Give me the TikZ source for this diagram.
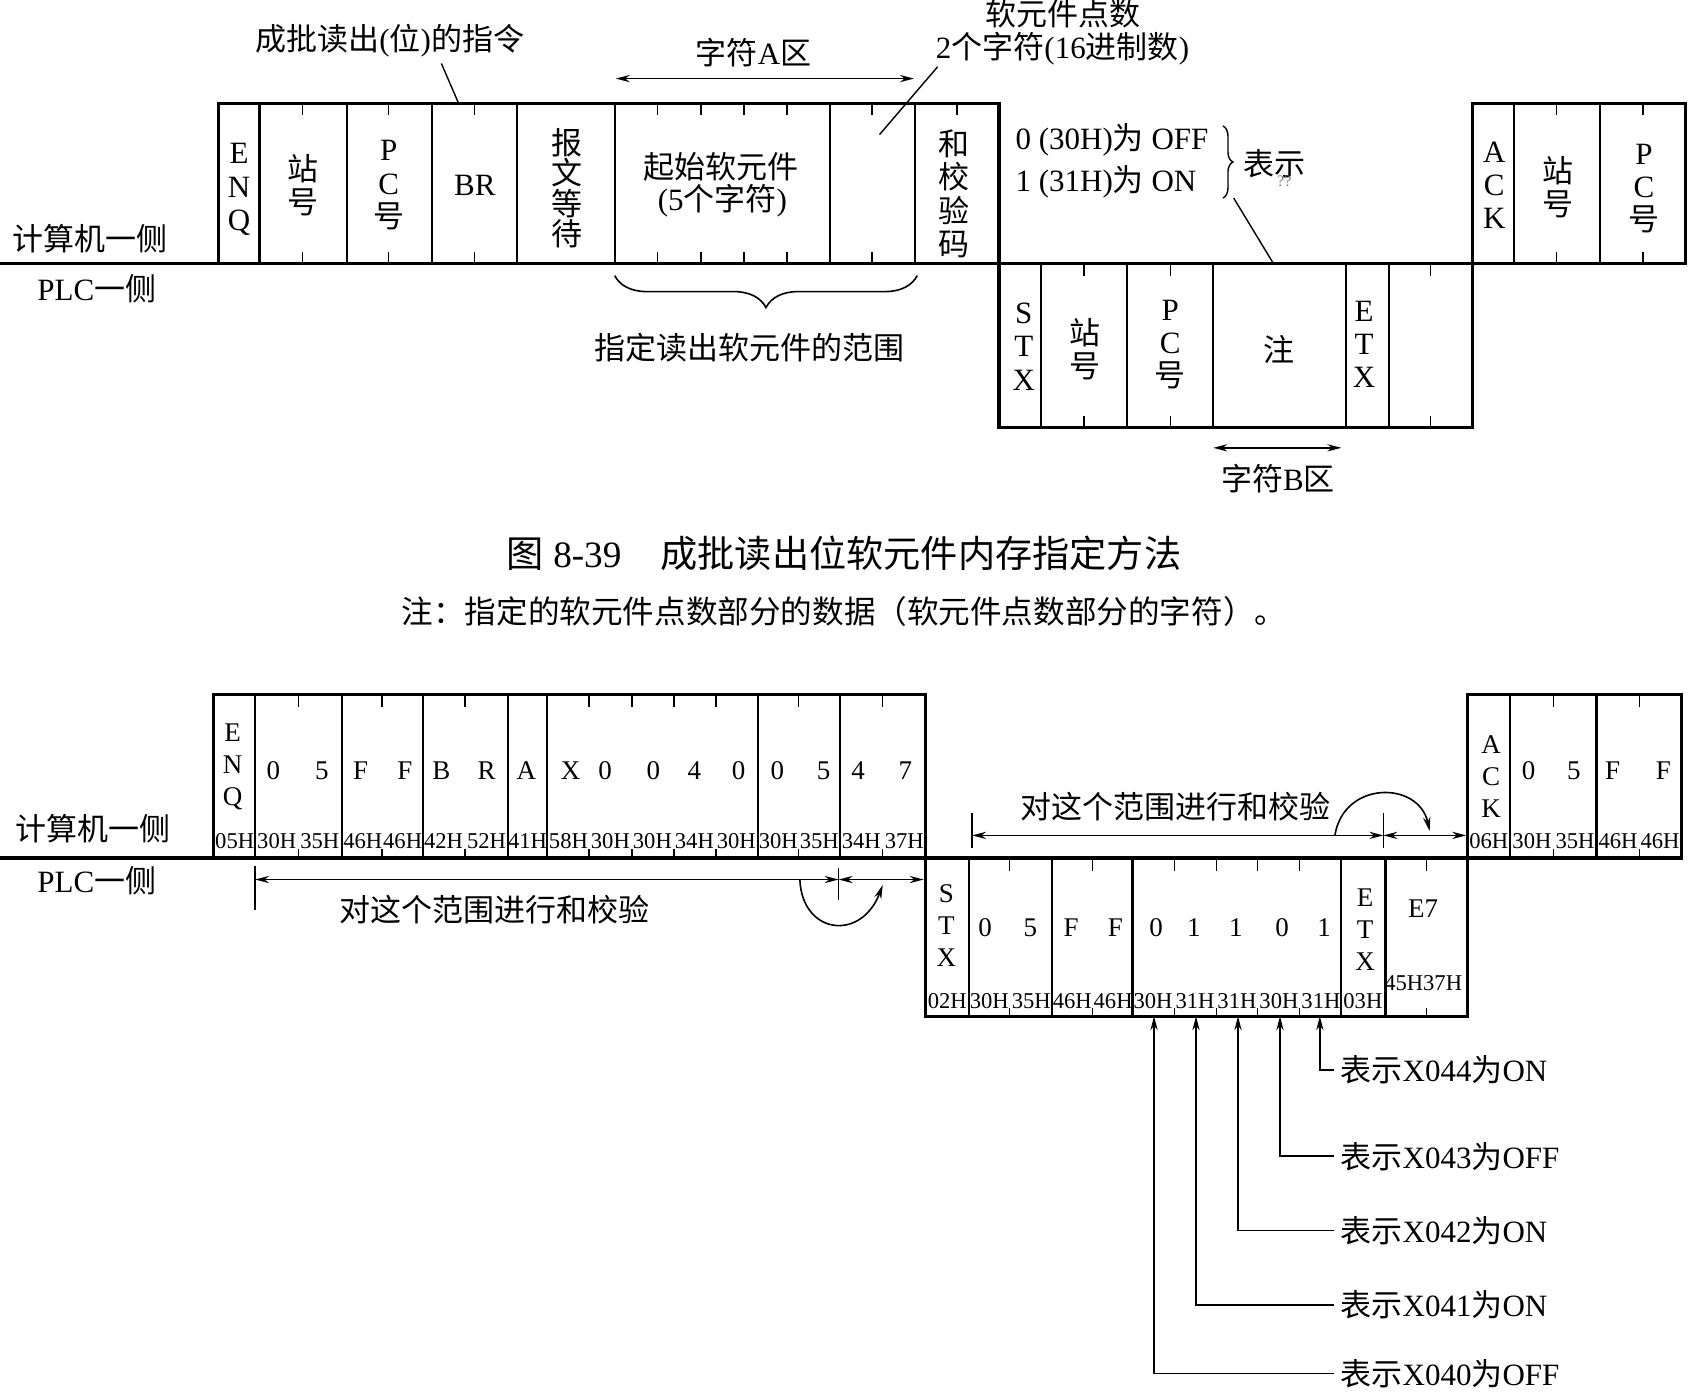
\documentclass[tikz,border=0pt]{standalone}
\usepackage{fontspec}
\setmainfont{Liberation Serif}
\newfontfamily\cjk{Noto Sans CJK SC}
\usetikzlibrary{arrows.meta,decorations.pathreplacing}
\newcommand\zh[1]{{\cjk #1}}
\begin{document}
\begin{tikzpicture}[x=0.5383pt,y=-0.5383pt,
  frame/.style={line width=1.6pt},
  divl/.style={line width=1.1pt},
  tickl/.style={line width=0.7pt},
  lbl/.style={inner sep=0pt, font=\fontsize{15.5}{16.5}\selectfont, align=center},
  vst/.style={inner sep=0pt, font=\fontsize{15.5}{16.6}\selectfont, align=center},
  vzh/.style={inner sep=0pt, font=\fontsize{15.5}{16.6}\selectfont\cjk, align=center},
  vsb/.style={inner sep=0pt, font=\fontsize{13.5}{16}\selectfont, align=center},
  big/.style={inner sep=0pt, font=\fontsize{13.5}{15}\selectfont},
  hex/.style={inner sep=0pt, font=\fontsize{11.3}{12}\selectfont},
  leader/.style={line width=0.7pt},
  thin/.style={line width=0.8pt},
  dbl/.style={line width=0.8pt, {Stealth[length=7pt,width=3.6pt]}-{Stealth[length=7pt,width=3.6pt]}},
  sarr/.style={line width=0.8pt, -{Stealth[length=7pt,width=3.6pt]}},
]
\useasboundingbox (0,0) rectangle (1568,1293);

%================ TOP DIAGRAM =================
\draw[frame] (0,245) -- (1566,245);
\draw[frame] (203,96) rectangle (928,245);
\draw[frame] (928,245) rectangle (1368,397);
\draw[frame] (1368,96) rectangle (1566,245);
\foreach \x in {241,322,401,480,571,771,850,1406,1486} \draw[divl] (\x,96) -- (\x,245);
\foreach \x in {967,1047,1127,1250,1290} \draw[divl] (\x,245) -- (\x,397);
\foreach \x in {281,361,441,611,651,691,731,810,1446,1526} {\draw[tickl] (\x,96) -- (\x,107); \draw[tickl] (\x,245) -- (\x,234);}
\draw[tickl] (889,96) -- (889,107);
\foreach \x in {1007,1087,1329} {\draw[tickl] (\x,245) -- (\x,256); \draw[tickl] (\x,397) -- (\x,386);}

\node[lbl] (tpc) at (84,222) {\zh{计算机一侧}};
\node[lbl] (tplc) at (90,268) {PLC\zh{一侧}};
\node[lbl] (tcmd) at (362,38) {\zh{成批读出}(\zh{位})\zh{的指令}};
\draw[leader] (410,59) -- (426,96);
\node[lbl] (tA) at (700,49) {\zh{字符}A\zh{区}};
\draw[dbl] (572,73) -- (849,73);
\node[lbl] (tn1) at (987,13) {\zh{软元件点数}};
\node[lbl] (tn2) at (987,45) {2\zh{个字符}(16\zh{进制数})};
\draw[leader] (871,62) -- (817,125);

\node[vst] (tenq) at (222,176) {E\\N\\Q};
\node[vzh] (tst1) at (281,172) {站\\号};
\node[vst] (tpc1) at (361,172) {P\\C\\\zh{号}};
\node[lbl] (tbr) at (441,172) {BR};
\node[vzh,font=\fontsize{15.5}{15.2}\selectfont\cjk] (tbw) at (527,175) {报\\文\\等\\待};
\node[lbl] (tstart) at (670,155) {\zh{起始软元件}};
\node[lbl] (tstart2) at (671,186) {(5\zh{个字符})};
\node[vzh] (tsum) at (886,180) {和\\校\\验\\码};
\node[lbl, anchor=west] (toff) at (943,130) {0 (30H)\zh{为} OFF};
\node[lbl, anchor=west] (ton) at (943,169) {1 (31H)\zh{为} ON};
\draw[line width=0.7pt, decorate, decoration={brace, amplitude=5pt}] (1136,117) -- (1136,184);
\node[lbl] (tbs) at (1184,152) {\zh{表示}};
\node[inner sep=0pt, font=\fontsize{8}{8}\selectfont, text=gray] (tqq) at (1193,168) {??};
\draw[leader] (1146,184) -- (1183,245);
\node[vst] (tack) at (1388,172) {A\\C\\K};
\node[vzh] (tst2) at (1447,174) {站\\号};
\node[vst] (tpc2) at (1527,175) {P\\C\\\zh{号}};

\node[vst] (tstx) at (951,322) {S\\T\\X};
\node[vzh] (tst3) at (1008,324) {站\\号};
\node[vst] (tpc3) at (1087,320) {P\\C\\\zh{号}};
\node[lbl] (tnote) at (1188,325) {\zh{注}};
\node[vst] (tetx) at (1267,320) {E\\T\\X};

\draw[line width=0.8pt, decorate, decoration={brace, mirror, amplitude=16pt}] (571,256) -- (852,256);
\node[lbl] (trange) at (696,323) {\zh{指定读出软元件的范围}};
\draw[dbl] (1127,416) -- (1246,416);
\node[lbl] (tB) at (1187,445) {\zh{字符}B\zh{区}};

%================ CAPTION =================
\node[inner sep=0pt, font=\fontsize{18.6}{20}\selectfont] (cap) at (784,514) {\zh{图} 8-39\hspace{1.05em}\zh{成批读出位软元件内存指定方法}};
\node[inner sep=0pt, font=\fontsize{15.8}{18}\selectfont] (capn) at (784,568) {\zh{注：指定的软元件点数部分的数据（软元件点数部分的字符）。}};

%================ BOTTOM DIAGRAM =================
\draw[frame] (0,797) -- (1562,797);
\draw[frame] (198,645) rectangle (860,797);
\draw[frame] (860,797) rectangle (1363,944);
\draw[frame] (1363,645) rectangle (1562,797);
\foreach \x in {237,318,393,472,508,704,780,1403,1483} \draw[divl] (\x,645) -- (\x,797);
\foreach \x in {900,977,1052,1246,1287} \draw[divl] (\x,797) -- (\x,944);
\foreach \x in {277,355,432,547,587,626,665,742,820,1443,1523} {\draw[tickl] (\x,645) -- (\x,657); \draw[tickl] (\x,797) -- (\x,789);}
\foreach \x in {938,1015,1091,1130,1168,1207,1325} {\draw[tickl] (\x,797) -- (\x,809); \draw[tickl] (\x,944) -- (\x,936);}

\node[lbl] (bpc) at (86,770) {\zh{计算机一侧}};
\node[lbl] (bplc) at (90,818) {PLC\zh{一侧}};

\node[vsb] (benq) at (216,712) {E\\N\\Q};
\node[vsb] (back) at (1385,721) {A\\C\\K};
\node[vsb] (bstx) at (879,860) {S\\T\\X};
\node[vsb] (betx) at (1268,864) {E\\T\\X};

\foreach \x/\t [count=\i] in {254/0, 299/5, 335/F, 376/F, 410/B, 452/R, 489/A, 530/X, 562/0, 607/0, 645/4, 686/0, 722/0, 765/5, 797/4, 841/7, 1420/0, 1462/5, 1498/F, 1545/F}
  \node[big] (bu\i) at (\x,716) {\t};
\foreach \x/\t [count=\i] in {915/0, 957/5, 995/F, 1036/F, 1074/0, 1109/1, 1148/1, 1191/0, 1230/1}
  \node[big] (bl\i) at (\x,862) {\t};
\node[big] (be7) at (1322,844) {E7};

\foreach \x/\t [count=\i] in {218/05H, 257/30H, 297/35H, 337/46H, 374/46H, 412/42H, 452/52H, 490/41H, 528/58H, 567/30H, 606/30H, 645/34H, 684/30H, 723/30H, 761/35H, 800/34H, 840/37H, 1383/06H, 1423/30H, 1463/35H, 1503/46H, 1542/46H}
  \node[hex] (hu\i) at (\x,781) {\t};
\foreach \x/\t [count=\i] in {880/02H, 919/30H, 958/35H, 996/46H, 1034/46H, 1071/30H, 1110/31H, 1149/31H, 1188/30H, 1227/31H, 1266/03H}
  \node[hex] (hl\i) at (\x,930) {\t};
\node[hex] (he7) at (1322,913) {45H37H};

% checksum ranges
\node[lbl] (rr) at (1092,749) {\zh{对这个范围进行和校验}};
\draw[thin] (903,755) -- (903,788);
\draw[dbl] (903,776) -- (1285,776);
\draw[thin] (1285,755) -- (1285,788);
\draw[dbl] (1285,776) -- (1362,776);
\draw[sarr] (1240,776) .. controls (1248,725) and (1318,725) .. (1328,772);

\node[lbl] (rl) at (459,845) {\zh{对这个范围进行和校验}};
\draw[thin] (237,804) -- (237,845);
\draw[dbl] (237,817) -- (779,817);
\draw[thin] (779,806) -- (779,836);
\draw[dbl] (779,817) -- (858,817);
\draw[sarr] (743,817) .. controls (745,868) and (800,875) .. (820,822);

% bit annotations
\coordinate (p0) at (1072,944);
\coordinate (p1) at (1111,944);
\coordinate (p2) at (1150,944);
\coordinate (p3) at (1189,944);
\coordinate (p4) at (1226,944);
\node[lbl, anchor=west] (a4) at (1245,994) {\zh{表示}X044\zh{为}ON};
\node[lbl, anchor=west] (a3) at (1245,1074) {\zh{表示}X043\zh{为}OFF};
\node[lbl, anchor=west] (a2) at (1245,1143) {\zh{表示}X042\zh{为}ON};
\node[lbl, anchor=west] (a1) at (1245,1212) {\zh{表示}X041\zh{为}ON};
\node[lbl, anchor=west] (a0) at (1245,1276) {\zh{表示}X040\zh{为}OFF};
\foreach \i in {0,...,4} \draw[sarr] ([xshift=-3pt]a\i.west) -| (p\i);
\end{tikzpicture}
\end{document}
